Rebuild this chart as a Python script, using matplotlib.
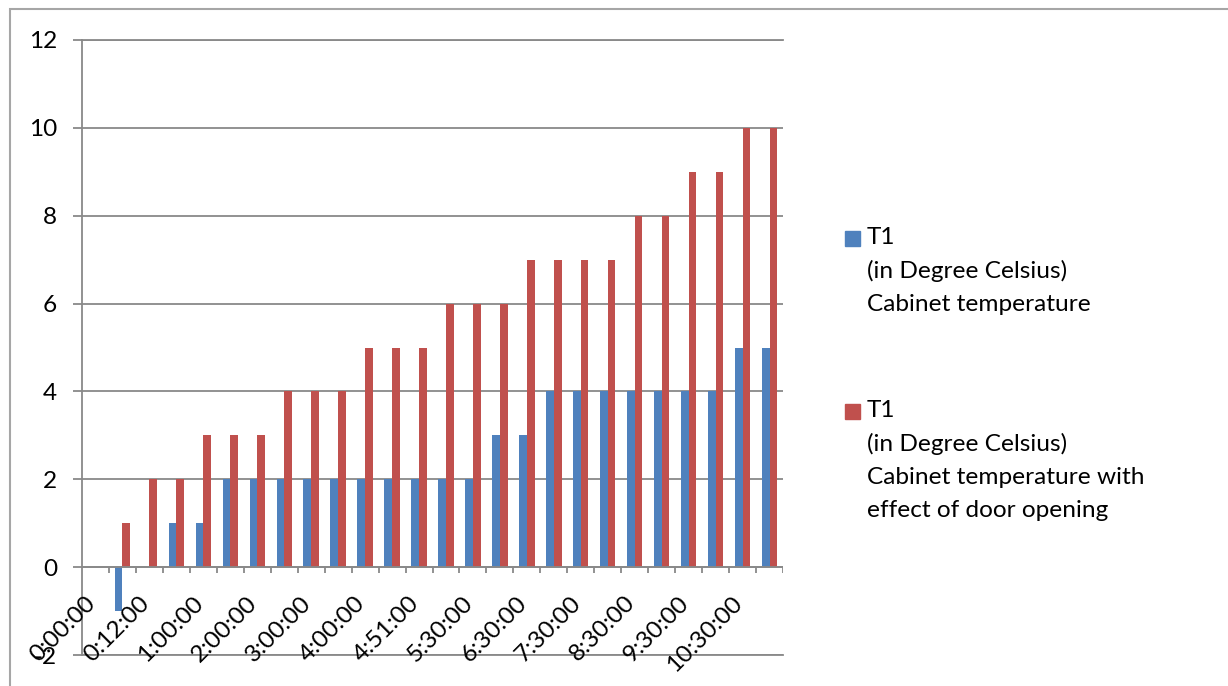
import numpy as np
import matplotlib
matplotlib.use("Agg")
import matplotlib.pyplot as plt
from matplotlib.patches import Rectangle

# Sample times (only every other one is labelled on the axis)
time_labels = ["0:00:00", "0:12:00", "1:00:00", "2:00:00", "3:00:00", "4:00:00",
               "4:51:00", "5:30:00", "6:30:00", "7:30:00", "8:30:00", "9:30:00",
               "10:30:00"]
n_points = 26

cabinet_temp = [0, -1, 0, 1, 1, 2, 2, 2, 2, 2, 2, 2, 2, 2, 2, 3, 3, 4, 4, 4, 4, 4, 4, 4, 5, 5]
door_open_temp = [0, 1, 2, 2, 3, 3, 3, 4, 4, 4, 5, 5, 5, 6, 6, 6, 7, 7, 7, 7, 8, 8, 9, 9, 10, 10]

series_names = [
    "T1\n(in Degree Celsius)\nCabinet temperature",
    "T1\n(in Degree Celsius)\nCabinet temperature with\neffect of door opening",
]
colors = ["#4F81BD", "#C0504D"]
grid_color = "#898989"
font = "Lato"
fs = 17.6

W, H = 1228, 686
fig = plt.figure(figsize=(W / 100, H / 100), dpi=100)
ax = fig.add_axes([82 / W, 1 - 655 / H, (783 - 82) / W, (655 - 40) / H])

x = np.arange(n_points)
bw = 0.285
ax.bar(x - bw / 2, cabinet_temp, bw, color=colors[0], zorder=3)
ax.bar(x + bw / 2, door_open_temp, bw, color=colors[1], zorder=3)

ax.set_xlim(-0.5, n_points - 0.5)
ax.set_ylim(-2, 12)
ax.set_yticks(np.arange(-2, 13, 2))
ax.set_yticklabels([str(v) for v in range(-2, 13, 2)], fontsize=fs, family=font)
ax.yaxis.grid(True, color=grid_color, linewidth=1.3, zorder=1)
ax.tick_params(axis="y", length=6.5, width=1.3, color=grid_color, pad=11.5)
ax.set_xticks([])

ax.spines["right"].set_visible(False)
for side in ["left", "top", "bottom"]:
    ax.spines[side].set_color(grid_color)
    ax.spines[side].set_linewidth(1.3)

# Category axis sits at zero with tick marks between categories
ax.axhline(0, color=grid_color, linewidth=1.3, zorder=4)
bounds = np.arange(0, n_points + 1) - 0.5
ax.vlines(bounds[1:], 0, -0.14, color=grid_color, linewidth=1.3, zorder=4)

for k, lab in enumerate(time_labels):
    ax.annotate(lab, xy=(2 * k, 0), xytext=(4, -25), textcoords="offset pixels",
                rotation=45, ha="right", va="top", fontsize=fs, family=font,
                annotation_clip=False)

# Legend
for i, (name, c) in enumerate(zip(series_names, colors)):
    top = 231 + i * 173
    fig.patches.append(Rectangle((845 / W, 1 - (top + 15) / H), 15 / W, 15 / H,
                                 transform=fig.transFigure, color=c))
    fig.text(867 / W, 1 - (top - 4) / H, name, fontsize=fs, family=font,
             va="top", ha="left", linespacing=1.68)

# Outer frame
fig.patches.append(Rectangle((9.5 / W, -0.05), 1.2, 1 - 9.5 / H + 0.05,
                             transform=fig.transFigure, fill=False,
                             edgecolor="#a6a6a6", linewidth=1.5))

fig.savefig("out.png", dpi=100)
